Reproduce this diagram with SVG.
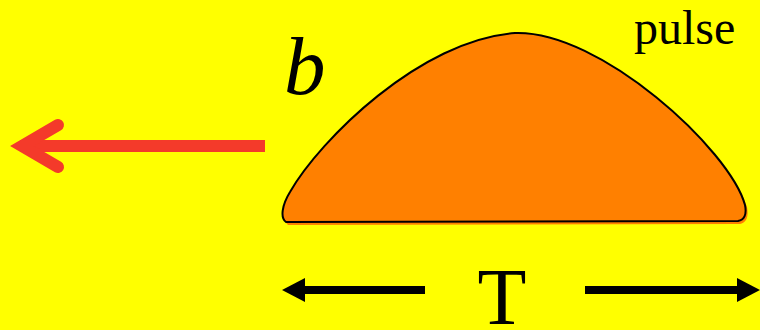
<svg xmlns="http://www.w3.org/2000/svg" width="760" height="330" viewBox="0 0 760 330">
<style>
.serif{font-family:"Liberation Serif","Times New Roman",serif;fill:#000}
.blk{stroke:#000;stroke-width:8;fill:none}
</style>
<rect x="0" y="0" width="760" height="330" fill="#FFFF00"/>
<g id="pulse">
<path d="M 288,225 C 282,220 284,207 292,194 C 322,142 422,42 517,35 C 602,32 732,152 747,207 C 749,217 746,223 740,224 Z" fill="#FF8000"/>
<path d="M 286,222 C 280,218 282,205 290,192 C 320,140 420,40 515,33 C 600,30 730,150 745,205 C 747,215 744,220 738,221 Z" fill="#FF8000" stroke="#000" stroke-width="2"/>
<text class="serif" x="634" y="44" font-size="48">pulse</text>
</g>
<g id="label-b">
<text class="serif" x="284" y="94" font-size="83" font-style="italic">b</text>
</g>
<g id="label-T">
<text class="serif" x="502" y="324" font-size="80" text-anchor="middle">T</text>
</g>
<g id="connectors">
<line x1="265" y1="146" x2="22" y2="146" stroke="#F43A2A" stroke-width="12"/>
<polyline points="58,125 22,146 58,167" fill="none" stroke="#F43A2A" stroke-width="12" stroke-linecap="round" stroke-linejoin="miter" stroke-miterlimit="10"/>
<line class="blk" x1="302" y1="290" x2="425" y2="290"/>
<polygon points="282,290 305,278 305,302" fill="#000"/>
<line class="blk" x1="585" y1="290" x2="740" y2="290"/>
<polygon points="760,290 737,278 737,302" fill="#000"/>
</g>
</svg>
